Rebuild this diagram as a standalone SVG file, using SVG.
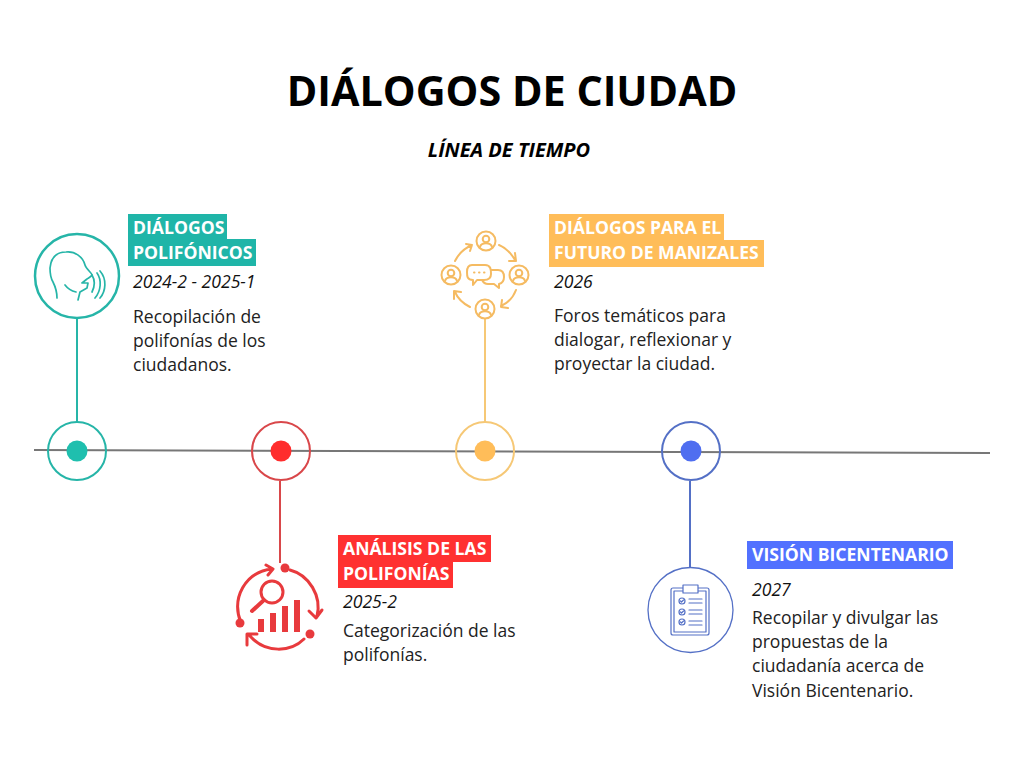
<svg xmlns="http://www.w3.org/2000/svg" width="1024" height="768" viewBox="0 0 1024 768">
<style>
text{font-family:"Open Sans","Liberation Sans",sans-serif}
.title{font-size:41.300px;font-weight:700;fill:#000;text-anchor:middle}
.sub{font-size:20px;font-weight:700;font-style:italic;fill:#000;text-anchor:middle}
.h{font-size:17.600px;font-weight:700;fill:#fff}
.d{font-size:17.600px;font-style:italic;fill:#111}
.b{font-size:17.500px;fill:#222}
.s{fill:none;stroke-linecap:round;stroke-linejoin:round}
.t{stroke:#26b5a8}.r{stroke:#e83a3d}.y{stroke:#f5bb62}.u{stroke:#5470c6}
</style>
<rect width="1024" height="768" fill="#fff"/>
<text class="title" x="512" y="105.500">DIÁLOGOS DE CIUDAD</text>
<text class="sub" x="509" y="157">LÍNEA DE TIEMPO</text>
<g id="connectors" fill="none">
<line x1="34" y1="450" x2="990" y2="453" stroke="#777" stroke-width="2"/>
<line x1="77" y1="318" x2="77" y2="422" stroke="#26b5a8" stroke-width="2"/>
<line x1="280" y1="481" x2="280" y2="563" stroke="#d9474a" stroke-width="2"/>
<line x1="485" y1="319" x2="485" y2="422" stroke="#f6c876" stroke-width="2"/>
<line x1="690" y1="481" x2="690" y2="568" stroke="#5470c6" stroke-width="2"/>
</g>
<g id="marker-1"><circle cx="77" cy="451" r="29" fill="none" stroke="#26b5a8" stroke-width="2"/><circle cx="77" cy="451" r="10.500" fill="#1fbfae"/></g>
<g id="marker-2"><circle cx="281" cy="451" r="29" fill="none" stroke="#d9474a" stroke-width="2"/><circle cx="281" cy="451" r="10.500" fill="#ff2d2d"/></g>
<g id="marker-3"><circle cx="485" cy="451" r="29" fill="none" stroke="#f6c876" stroke-width="2"/><circle cx="485" cy="451" r="10.500" fill="#ffbd59"/></g>
<g id="marker-4"><circle cx="691" cy="451" r="29" fill="none" stroke="#5470c6" stroke-width="2"/><circle cx="691" cy="451" r="10.500" fill="#4f6ef0"/></g>

<g id="node-1">
<circle cx="77" cy="276" r="42" fill="none" stroke="#26b5a8" stroke-width="2.500"/>
<g class="s t" stroke-width="1.700">
<path d="M57 298C57 290 55 286 53 282C50 277 50 273 50 268C51 258 56 252 66 252C75 251 83 257 85 265C86 269 92 273 92 275C91 277 88 278 87 279L82 283L88 283L87 288L80 292L78 300"/>
<path d="M65 285C68 289 72 291 76 292"/>
<path d="M92 275C95 280 95 286 92 292M97 273C102 280 101 291 95 298M100 271C107 279 106 291 100 298"/>
</g>
<rect x="128" y="214" width="99" height="25" fill="#1fb5a8"/>
<rect x="128" y="239" width="128" height="27" fill="#1fb5a8"/>
<text class="h" x="133" y="234">DIÁLOGOS</text>
<text class="h" x="133" y="259">POLIFÓNICOS</text>
<text class="d" x="133" y="288">2024-2 - 2025-1</text>
<text class="b" x="133" y="323">Recopilación de</text>
<text class="b" x="133" y="347">polifonías de los</text>
<text class="b" x="133" y="371">ciudadanos.</text>
</g>

<g id="node-2">
<g class="s r" stroke-width="3">
<path d="M241 623C231 598 245 572 272 569M266 565L273 569L268 575"/>
<path d="M290 570C309 575 322 596 317 616M309 611L316 618L322 610"/>
<path d="M304 639C291 652 266 654 250 636M247 645L247 634L257 634"/>
<circle cx="272" cy="592" r="11"/>
<path d="M264 600L252 611" stroke-width="4"/>
</g>
<g fill="#e83a3d">
<circle cx="285" cy="568" r="4.500"/><circle cx="240" cy="623" r="4.500"/><circle cx="310" cy="634" r="4.500"/>
<rect x="258" y="619" width="6" height="13"/><rect x="270" y="613" width="6" height="19"/><rect x="282" y="606" width="6" height="26"/><rect x="294" y="600" width="6" height="32"/>
</g>
<rect x="338" y="535" width="153" height="27" fill="#ff3131"/>
<rect x="338" y="562" width="115" height="26" fill="#ff3131"/>
<text class="h" x="343" y="555">ANÁLISIS DE LAS</text>
<text class="h" x="343" y="580">POLIFONÍAS</text>
<text class="d" x="343" y="608">2025-2</text>
<text class="b" x="343" y="637">Categorización de las</text>
<text class="b" x="343" y="661">polifonías.</text>
</g>

<g id="node-3">
<g class="s y" stroke-width="2">
<circle cx="486" cy="241" r="9.500"/><circle cx="486" cy="239" r="3.300"/><path d="M480 247C481 242 491 242 492 247"/>
<circle cx="519" cy="275" r="9.500"/><circle cx="519" cy="273" r="3.300"/><path d="M513 281C514 276 524 276 525 281"/>
<circle cx="451" cy="275" r="9.500"/><circle cx="451" cy="273" r="3.300"/><path d="M445 281C446 276 456 276 457 281"/>
<circle cx="485" cy="309" r="9.500"/><circle cx="485" cy="307" r="3.300"/><path d="M479 315C480 310 490 310 491 315"/>
<path d="M455 261C459 253 465 248 472 245M466 244L472 245L470 251"/>
<path d="M499 245C506 248 511 253 515 260M515 253L516 261L509 261"/>
<path d="M516 290C513 298 508 303 501 306M502 300L501 307L508 308"/>
<path d="M470 307C464 304 458 299 455 292M454 299L454 291L461 292"/>
<path d="M472 265H485C491 265 491 270 491 274C491 279 488 280 484 280H477L473 285V280C467 280 467 276 467 272C467 268 468 265 472 265Z"/>
<path d="M491 270H498C503 270 504 273 504 277C504 281 503 283 499 284V288L494 284H488C485 284 483 282 482 280"/>
<path d="M474 272.500h.5M479 272.500h.5M484 272.500h.5"/>
</g>
<rect x="549" y="214" width="175" height="26" fill="#ffbd59"/>
<rect x="549" y="240" width="215" height="27" fill="#ffbd59"/>
<text class="h" x="554" y="234">DIÁLOGOS PARA EL</text>
<text class="h" x="554" y="259">FUTURO DE MANIZALES</text>
<text class="d" x="554" y="288">2026</text>
<text class="b" x="554" y="322">Foros temáticos para</text>
<text class="b" x="554" y="346">dialogar, reflexionar y</text>
<text class="b" x="554" y="370">proyectar la ciudad.</text>
</g>

<g id="node-4">
<circle cx="690.500" cy="610" r="42.500" fill="none" stroke="#5470c6" stroke-width="1.300"/>
<g class="s u" stroke-width="1.200">
<rect x="671" y="588" width="38" height="47" rx="2"/>
<rect x="674" y="591" width="32" height="41"/>
<rect x="683" y="585" width="15" height="8" fill="#fff"/>
<circle cx="682" cy="601" r="3"/><circle cx="682" cy="612" r="3"/><circle cx="682" cy="622" r="3"/>
<path d="M680.500 601l1 1 2-2M680.500 612l1 1 2-2M680.500 622l1 1 2-2"/>
<path d="M689 599H702M689 603H702M689 610H702M689 614H702M689 621H702M689 625H702"/>
</g>
<rect x="747" y="541" width="206" height="28" fill="#5271ff"/>
<text class="h" x="752" y="561">VISIÓN BICENTENARIO</text>
<text class="d" x="752" y="596">2027</text>
<text class="b" x="752" y="624">Recopilar y divulgar las</text>
<text class="b" x="752" y="648">propuestas de la</text>
<text class="b" x="752" y="672">ciudadanía acerca de</text>
<text class="b" x="752" y="697">Visión Bicentenario.</text>
</g>
</svg>
